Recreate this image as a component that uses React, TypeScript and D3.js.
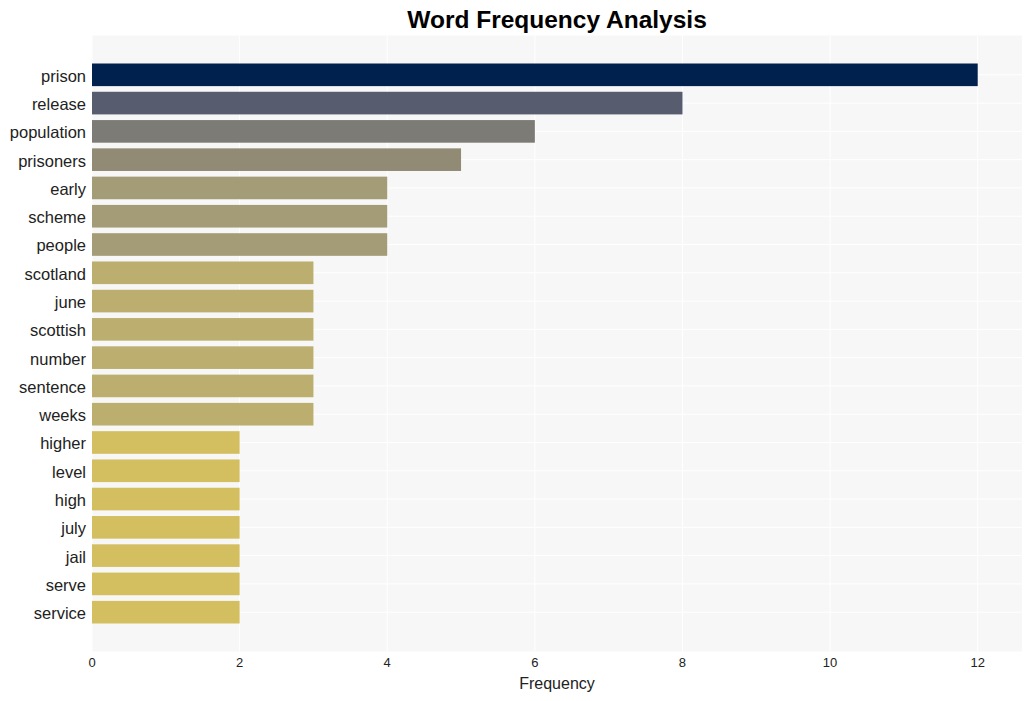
import React from "react";
import * as d3 from "d3";

const words = ["prison","release","population","prisoners","early","scheme","people","scotland","june","scottish","number","sentence","weeks","higher","level","high","july","jail","serve","service"];
const counts = [12,8,6,5,4,4,4,3,3,3,3,3,3,2,2,2,2,2,2,2];
const barColors = ["#00214e","#575c6e","#7d7b75","#918b76","#a49b77","#a49b77","#a49b77","#bcae6e","#bcae6e","#bcae6e","#bcae6e","#bcae6e","#bcae6e","#d3bf60","#d3bf60","#d3bf60","#d3bf60","#d3bf60","#d3bf60","#d3bf60"];
const xTicks = [0,2,4,6,8,10,12];

export default function App() {
  const W = 1031, H = 701;
  const left = 92, right = 1022, top = 35.5, bottom = 651.5;
  const x = d3.scaleLinear().domain([0, 12.6]).range([left, right]);
  const n = words.length;
  const y = d3.scaleLinear().domain([-1.39, n - 1 + 1.39]).range([top, bottom]);
  const bh = y(0.4) - y(-0.4);
  const font = "'Liberation Sans', Arial, sans-serif";
  return (
    <svg width={W} height={H} style={{ position: "absolute", left: 0, top: 0 }} fontFamily={font}>
      <rect x={0} y={0} width={W} height={H} fill="#ffffff" />
      <rect x={left} y={top} width={right - left} height={bottom - top} fill="#f7f7f7" />
      {xTicks.map(t => (
        <line key={"gx" + t} x1={x(t)} x2={x(t)} y1={top} y2={bottom} stroke="#ffffff" strokeWidth={1} />
      ))}
      {words.map((w, i) => (
        <line key={"gy" + w} x1={left} x2={right} y1={y(i)} y2={y(i)} stroke="#ffffff" strokeWidth={1} />
      ))}
      {words.map((w, i) => (
        <rect key={"b" + w} x={x(0)} y={y(i) - bh / 2} width={x(counts[i]) - x(0)} height={bh} fill={barColors[i]} />
      ))}
      {words.map((w, i) => (
        <text key={"l" + w} x={left - 6} y={y(i) + 1} dy="0.36em" textAnchor="end" fontSize={16.5} fill="#222">{w}</text>
      ))}
      {xTicks.map(t => (
        <text key={"tx" + t} x={x(t)} y={667} textAnchor="middle" fontSize={13} fill="#222">{t}</text>
      ))}
      <text x={(left + right) / 2} y={689} textAnchor="middle" fontSize={16} fill="#222">Frequency</text>
      <text x={(left + right) / 2} y={28} textAnchor="middle" fontSize={24.5} fontWeight="bold" fill="#000">Word Frequency Analysis</text>
    </svg>
  );
}
